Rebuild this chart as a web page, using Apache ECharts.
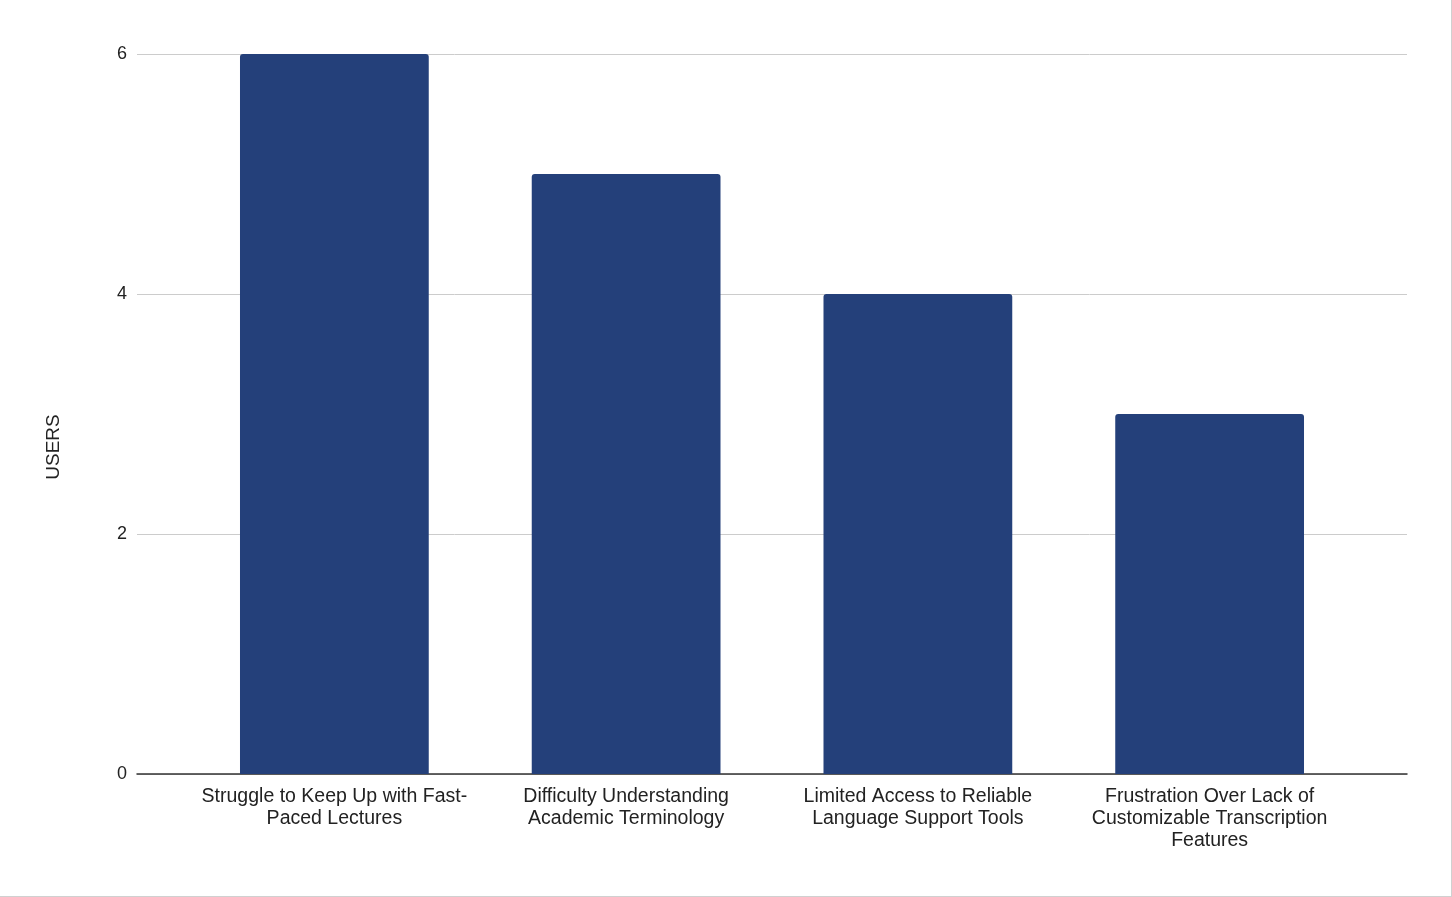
<!DOCTYPE html>
<html>
<head>
<meta charset="utf-8">
<script src="https://cdn.jsdelivr.net/npm/echarts@6/dist/echarts.min.js"></script>
<style>
html,body{margin:0;padding:0;background:#fff;}
#c{width:1452px;height:897px;box-sizing:border-box;border-right:1px solid #d0d0d0;border-bottom:1px solid #d0d0d0;}
</style>
</head>
<body>
<div id="c"></div>
<script>
const categories = [
  "Struggle to Keep Up with Fast-\nPaced Lectures",
  "Difficulty Understanding\nAcademic Terminology",
  "Limited Access to Reliable\nLanguage Support Tools",
  "Frustration Over Lack of\nCustomizable Transcription\nFeatures"
];
const users = [6, 5, 4, 3];
const yTicks = { min: 0, max: 6, interval: 2 };
const yAxisName = "USERS";

const FONT = 'Liberation Sans, Arial, sans-serif';
const chart = echarts.init(document.getElementById('c'));
chart.setOption({
  animation: false,
  textStyle: { fontFamily: FONT },
  grid: [
    { left: 137, right: 44, top: 54, bottom: 122 },
    { left: 188.5, right: 95.5, top: 54, bottom: 122 }
  ],
  xAxis: [
    {
      gridIndex: 0, type: 'value', min: 0, max: 1,
      axisTick: { show: false }, axisLabel: { show: false }, splitLine: { show: false },
      axisLine: { show: true, lineStyle: { color: '#333', width: 1.5 } }
    },
    {
      gridIndex: 1, type: 'category', data: categories,
      axisTick: { show: false },
      axisLine: { show: false },
      axisLabel: { color: '#222', fontSize: 19.5, lineHeight: 22, margin: 12, interval: 0 }
    }
  ],
  yAxis: [
    {
      gridIndex: 0, type: 'value',
      min: yTicks.min, max: yTicks.max, interval: yTicks.interval,
      axisLine: { show: false },
      axisTick: { show: false },
      axisLabel: { color: '#222', fontSize: 18, margin: 10 },
      splitLine: { lineStyle: { color: '#cccccc', width: 1 } }
    },
    {
      gridIndex: 1, type: 'value',
      min: yTicks.min, max: yTicks.max, interval: yTicks.interval,
      axisLine: { show: false }, axisTick: { show: false },
      axisLabel: { show: false }, splitLine: { show: false }
    }
  ],
  graphic: [{
    type: 'text',
    x: 54, y: 447,
    rotation: Math.PI / 2,
    style: {
      text: yAxisName, fontSize: 19, fontFamily: FONT, fill: '#222',
      align: 'center', verticalAlign: 'middle'
    }
  }],
  series: [{
    type: 'bar',
    xAxisIndex: 1, yAxisIndex: 1,
    data: users,
    barCategoryGap: '35.3%',
    itemStyle: { color: '#24407a', borderRadius: [3, 3, 0, 0] }
  }]
});
</script>
</body>
</html>
